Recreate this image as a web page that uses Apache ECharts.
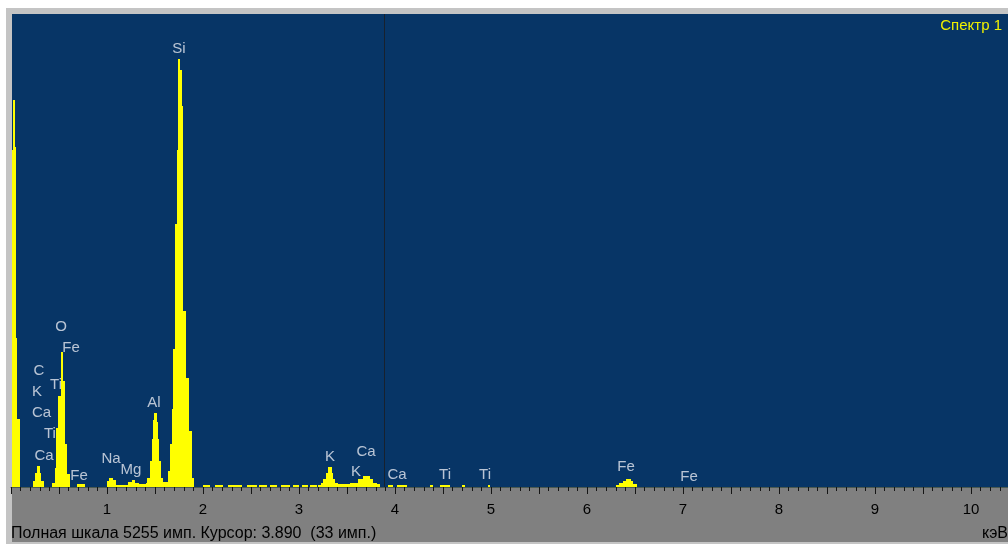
<!DOCTYPE html>
<html>
<head>
<meta charset="utf-8">
<title>Спектр 1</title>
<script src="https://cdn.jsdelivr.net/npm/echarts@6/dist/echarts.min.js"></script>
<style>
  html, body { margin: 0; padding: 0; background: #ffffff; }
  #wrap { position: relative; width: 1008px; height: 544px; overflow: hidden; }
  .frame { position: absolute; left: 6px; top: 8px; width: 1002px; height: 536px; background: #c4c4c4; }
  .plotbg { position: absolute; left: 12px; top: 14px; width: 996px; height: 473px; background: #073566; }
  .panel { position: absolute; left: 12px; top: 487px; width: 996px; height: 55px; background: #808080; }
  #chart { position: absolute; left: 0; top: 0; width: 1008px; height: 544px; }
</style>
</head>
<body>
<div id="wrap">
  <div class="frame"></div>
  <div class="plotbg"></div>
  <div class="panel"></div>
  <div id="chart"></div>
</div>
<script>
// EDS spectrum: each point opens a channel block (keV) that holds its count until the next point
const energyKeV = [
  0, 0.01, 0.024, 0.039, 0.052, 0.066, 0.09,
  0.229, 0.247, 0.271, 0.299, 0.316, 0.341,
  0.43, 0.455, 0.472, 0.49, 0.518, 0.542, 0.566, 0.586, 0.611,
  0.688, 0.771,
  0.995, 1.025, 1.066, 1.098,
  1.22, 1.257, 1.292, 1.336,
  1.406, 1.42, 1.448, 1.466, 1.482, 1.493, 1.518, 1.528, 1.542, 1.559, 1.586,
  1.635, 1.656, 1.674, 1.691, 1.708, 1.726, 1.743, 1.76, 1.778, 1.795, 1.82, 1.854, 1.882, 1.906,
  1.997, 2.073, 2.125, 2.212, 2.264, 2.403, 2.455, 2.56, 2.586, 2.663, 2.698, 2.768,
  2.81, 2.906, 2.934, 3.003, 3.028, 3.097, 3.115, 3.184, 3.2,
  3.226, 3.253, 3.281, 3.305, 3.341, 3.357, 3.375, 3.409,
  3.531, 3.566, 3.618, 3.67, 3.74, 3.774, 3.816, 3.844,
  3.927, 3.979, 4.018, 4.122, 4.365, 4.393, 4.469, 4.573, 4.698, 4.729, 4.969, 4.99,
  6.302, 6.336, 6.372, 6.406, 6.455, 6.482, 6.518,
  10.385
];
const counts = [
  0, 3740, 4296, 3773, 1658, 757, 0,
  67, 159, 234, 159, 67, 0,
  45, 211, 657, 1013, 1495, 1180, 479, 145, 0,
  30, 0,
  67, 104, 78, 22,
  56, 74, 48, 30,
  45, 100, 289, 534, 740, 827, 720, 534, 289, 100, 56,
  178, 479, 868, 1536, 2927, 3740, 4760, 4630, 4229, 1959, 1213, 623, 100, 0,
  25, 0, 25, 0, 25, 0, 25, 0, 25, 0, 25, 0,
  25, 0, 25, 0, 25, 0, 25, 0, 25,
  48, 89, 159, 222, 159, 89, 48, 30,
  40, 48, 86, 122, 86, 48, 30, 0,
  25, 0, 25, 0, 25, 0, 25, 0, 25, 0, 25, 0,
  19, 41, 67, 92, 67, 30, 0,
  0
];

// Element line markers: symbol, energy (keV) and height (counts) where the name sits
const lineNames = ['Si', 'O', 'Fe', 'C', 'K', 'Ti', 'Ca', 'Ti', 'Ca', 'Fe', 'Na', 'Mg', 'Al',
                   'K', 'Ca', 'K', 'Ca', 'Ti', 'Ti', 'Fe', 'Fe'];
const lineKeV = [1.75, 0.521, 0.625, 0.292, 0.271, 0.469, 0.318, 0.406, 0.344, 0.708, 1.042, 1.25, 1.489,
                 3.323, 3.698, 3.594, 4.021, 4.521, 4.938, 6.406, 7.063];
const lineCounts = [4870, 1781, 1547, 1291, 1057, 1135, 824, 590, 345, 122, 312, 189, 935,
                    334, 390, 167, 134, 134, 134, 223, 111];

const fullScale = 5255;
const cursorKeV = 3.890;
const cursorCounts = 33;
const axisMaxKeV = 10.385;
const spectrumTitle = 'Спектр 1';

// channel blocks: [start keV, end keV, counts]
const blocks = [];
for (let i = 0; i < energyKeV.length - 1; i++) {
  if (counts[i] > 0) blocks.push([energyKeV[i], energyKeV[i + 1], counts[i]]);
}
const lineMarks = lineNames.map((n, i) => ({ name: n, value: [lineKeV[i], lineCounts[i]] }));

const FONT = '"Liberation Sans", Arial, sans-serif';
const chart = echarts.init(document.getElementById('chart'), null, { renderer: 'canvas' });

chart.setOption({
  animation: false,
  backgroundColor: 'transparent',
  grid: { left: 11, right: 0, top: 14, bottom: 57, containLabel: false },
  xAxis: {
    type: 'value',
    min: 0,
    max: axisMaxKeV,
    interval: 0.5,
    axisLine: { show: true, onZero: false, lineStyle: { color: '#4a5a52', width: 1 } },
    axisTick: { show: true, length: 7, lineStyle: { color: '#151515', width: 1 } },
    minorTick: { show: true, splitNumber: 5, length: 4, lineStyle: { color: '#151515', width: 1 } },
    splitLine: { show: false },
    axisLabel: {
      margin: 15,
      color: '#000000',
      fontSize: 15,
      fontFamily: FONT,
      showMinLabel: false,
      showMaxLabel: false,
      formatter: v => (Math.abs(v - Math.round(v)) < 1e-6 && v > 0.5) ? String(Math.round(v)) : ''
    }
  },
  yAxis: {
    type: 'value',
    min: 0,
    max: fullScale,
    show: false,
    splitLine: { show: false }
  },
  series: [
    {
      name: 'lines',
      type: 'scatter',
      z: 2,
      symbolSize: 1,
      itemStyle: { color: 'rgba(0,0,0,0)' },
      silent: true,
      label: {
        show: true,
        position: 'inside',
        formatter: '{b}',
        color: '#e6e8f0',
        fontSize: 15,
        fontFamily: FONT
      },
      data: lineMarks
    },
    {
      name: spectrumTitle,
      type: 'custom',
      z: 3,
      silent: true,
      encode: { x: [0, 1], y: 2 },
      renderItem: (params, api) => {
        const top = api.coord([api.value(0), api.value(2)]);
        const bottom = api.coord([api.value(1), 0]);
        // snap channel edges to whole pixels so neighbouring blocks join without seams
        const x0 = Math.round(top[0]);
        const x1 = Math.max(x0 + 1, Math.round(bottom[0]));
        const y0 = Math.round(top[1]);
        const y1 = Math.round(bottom[1]);
        return {
          type: 'rect',
          shape: { x: x0, y: y0, width: x1 - x0, height: Math.max(1, y1 - y0) },
          style: { fill: '#ffff00' }
        };
      },
      data: blocks,
      markLine: {
        silent: true,
        symbol: ['none', 'none'],
        label: { show: false },
        lineStyle: { color: '#17212e', width: 1, type: 'solid' },
        data: [{ xAxis: cursorKeV }]
      }
    }
  ],
  graphic: [
    {
      type: 'text',
      right: 6,
      top: 18,
      style: { text: spectrumTitle, fill: '#f0f000', font: '15px ' + FONT }
    },
    {
      type: 'text',
      left: 11,
      top: 526,
      style: {
        text: 'Полная шкала ' + fullScale + ' имп. Курсор: ' + cursorKeV.toFixed(3) + '  (' + cursorCounts + ' имп.)',
        fill: '#000000',
        font: '16px ' + FONT
      }
    },
    {
      type: 'text',
      right: 0,
      top: 526,
      style: { text: 'кэВ', fill: '#000000', font: '16px ' + FONT }
    }
  ]
});
</script>
</body>
</html>
